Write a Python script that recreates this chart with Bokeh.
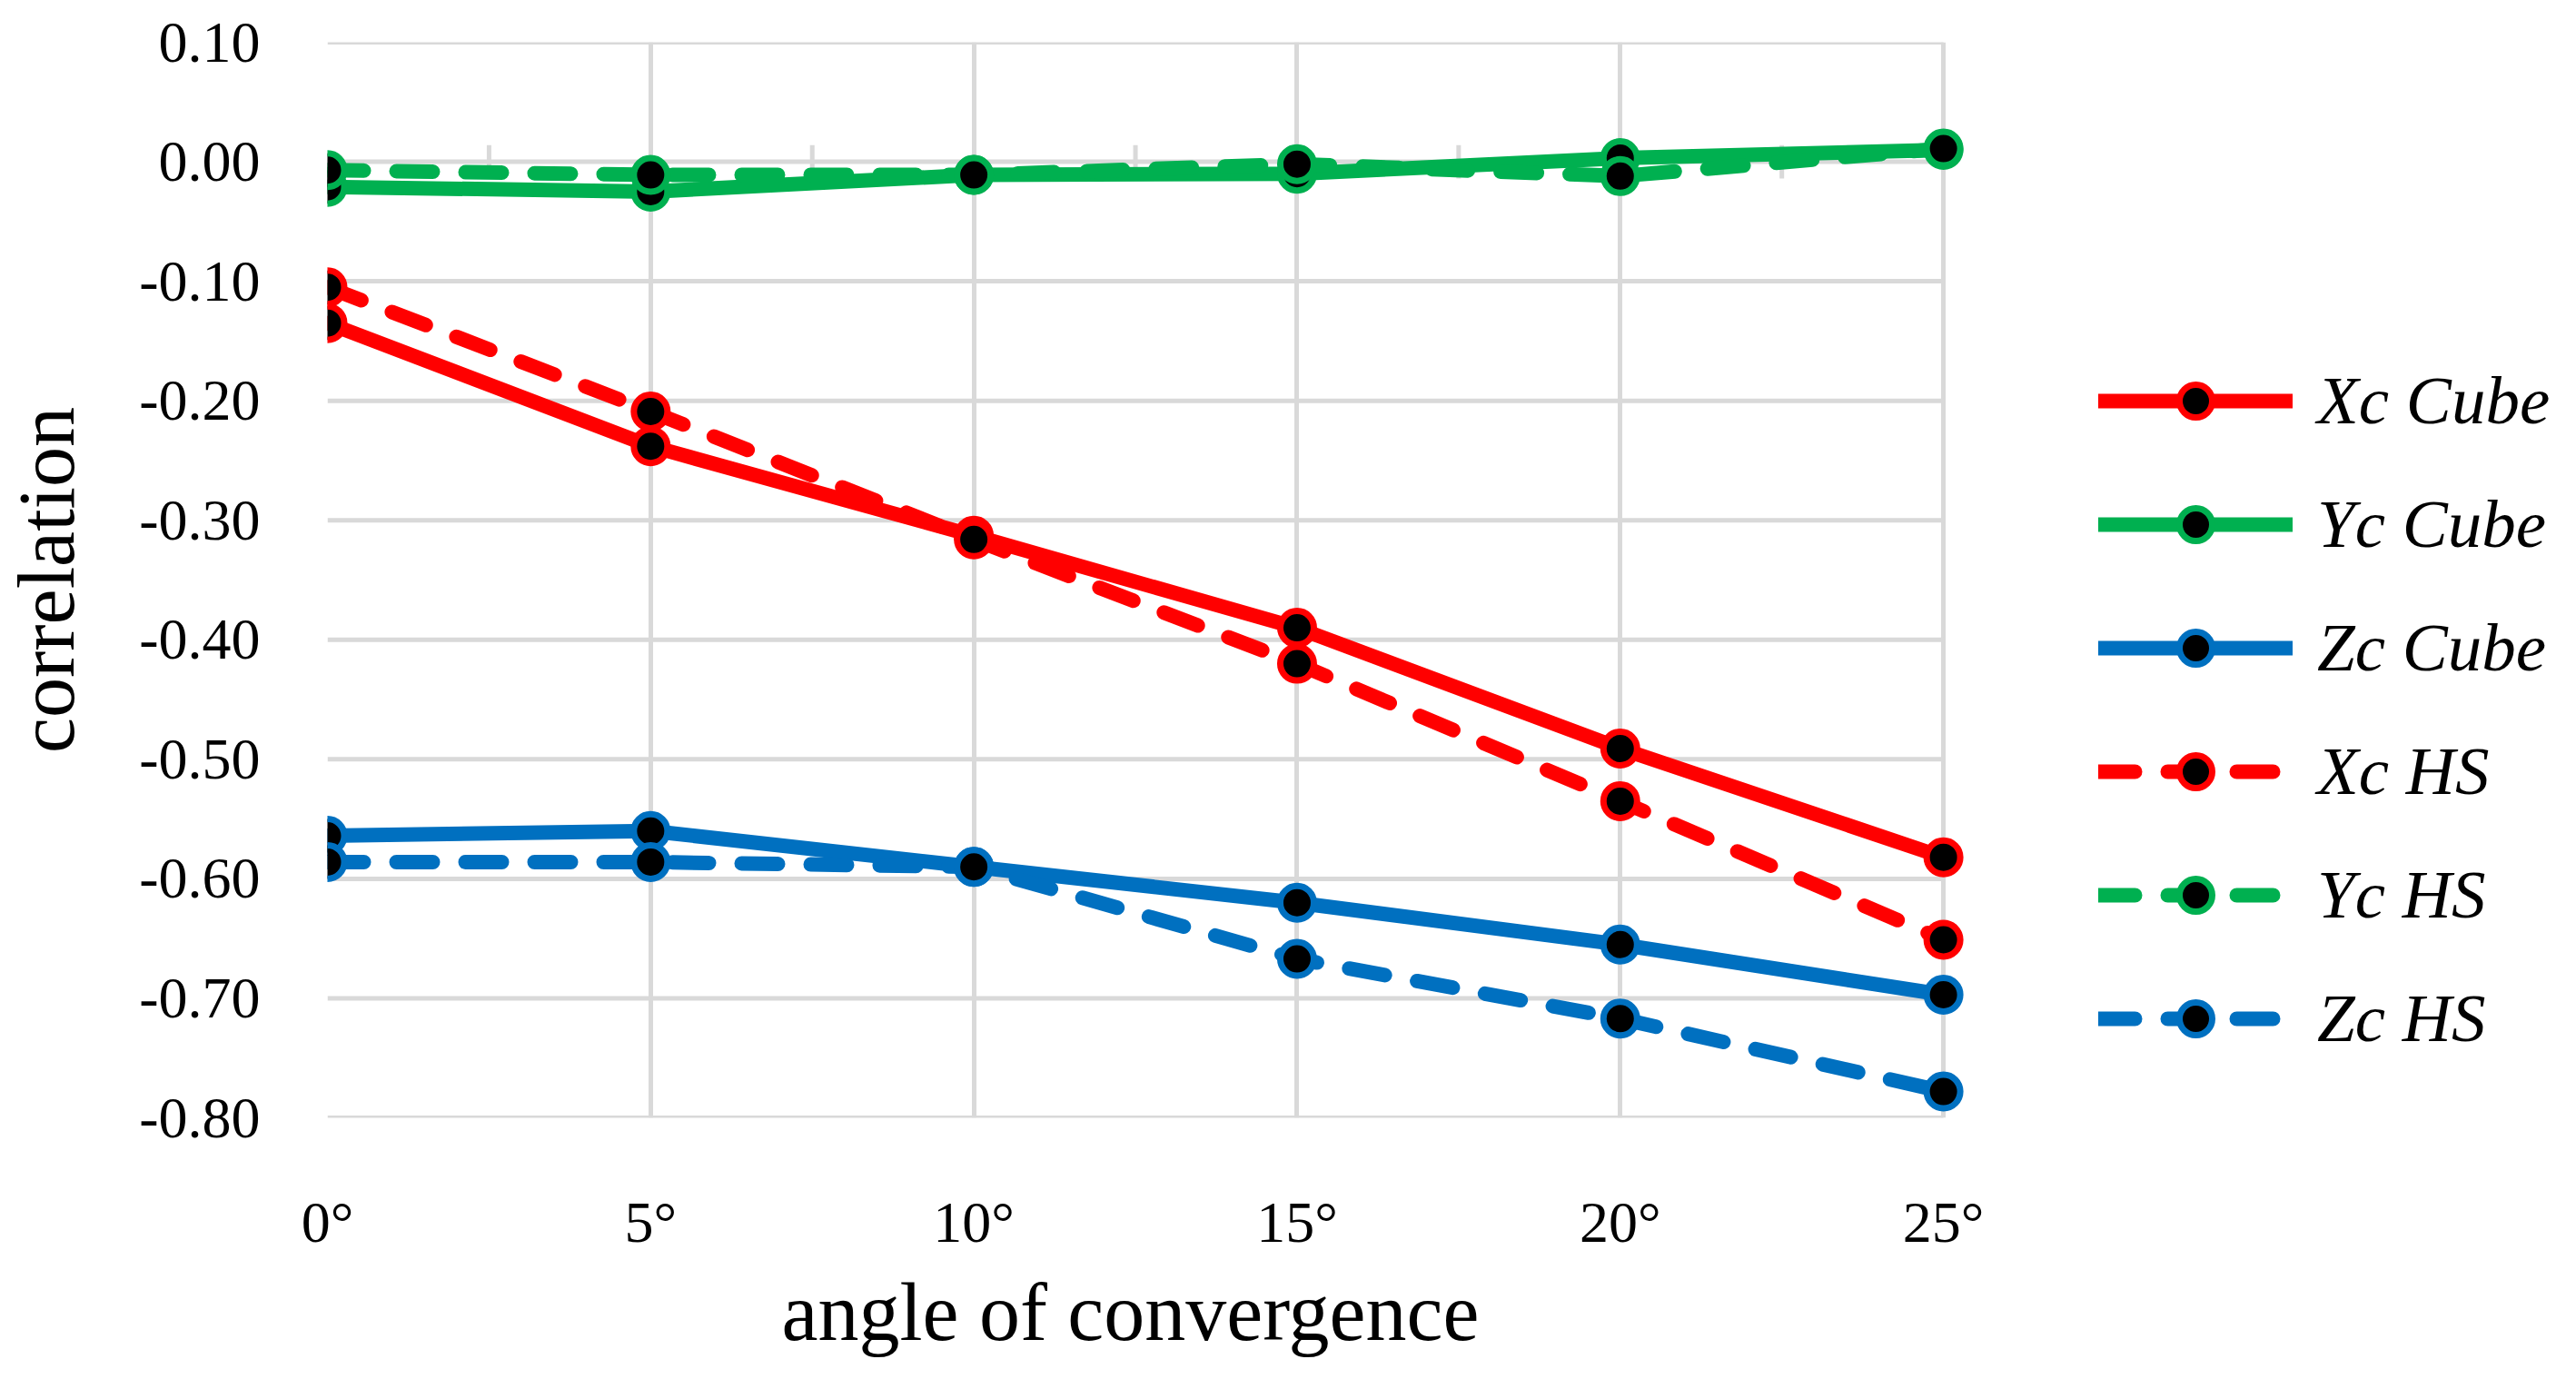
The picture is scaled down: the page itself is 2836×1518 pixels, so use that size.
from bokeh.plotting import figure
from bokeh.models import (FixedTicker, NumeralTickFormatter, Range1d, Legend, LegendItem, Title)
from bokeh.embed import file_html
from bokeh.resources import INLINE

# ---- data ----
angles = [0, 5, 10, 15, 20, 25]
angle_labels = ["0°", "5°", "10°", "15°", "20°", "25°"]
y_ticks = [0.10, 0.00, -0.10, -0.20, -0.30, -0.40, -0.50, -0.60, -0.70, -0.80]

xc_cube = [-0.135, -0.238, -0.313, -0.390, -0.491, -0.582]
yc_cube = [-0.021, -0.025, -0.011, -0.010, 0.003, 0.010]
zc_cube = [-0.564, -0.560, -0.590, -0.620, -0.655, -0.697]
xc_hs = [-0.105, -0.209, -0.316, -0.420, -0.535, -0.651]
yc_hs = [-0.007, -0.011, -0.011, -0.002, -0.012, 0.011]
zc_hs = [-0.586, -0.586, -0.590, -0.667, -0.717, -0.778]

series = [
    ("Xc Cube", xc_cube, "#FF0000", "solid"),
    ("Yc Cube", yc_cube, "#00B050", "solid"),
    ("Zc Cube", zc_cube, "#0070C0", "solid"),
    ("Xc HS", xc_hs, "#FF0000", "40 36"),
    ("Yc HS", yc_hs, "#00B050", "40 36"),
    ("Zc HS", zc_hs, "#0070C0", "40 36"),
]

FONT = "Liberation Serif"
GRID = "#D9D9D9"

# layout (pixels)
W, H = 2820, 1502
LEFT, TOP, BOTTOM = 356, 46, 271
PLOT_W = 1782                      # width of the gridded plot area
FRAME_W = W - LEFT                 # frame runs to the right edge so the legend fits inside
x_end = angles[0] + (angles[-1] - angles[0]) * FRAME_W / PLOT_W

p = figure(width=W, height=H, output_backend="svg", toolbar_location=None,
           x_range=Range1d(angles[0], x_end), y_range=Range1d(y_ticks[-1], y_ticks[0]),
           min_border_left=LEFT, min_border_right=0, min_border_top=TOP,
           min_border_bottom=BOTTOM)
p.outline_line_color = None
p.background_fill_color = "white"
p.border_fill_color = "white"

# grid: vertical lines at the categories, horizontal lines only across the plot area
p.xgrid.ticker = FixedTicker(ticks=angles)
p.xgrid.grid_line_color = GRID
p.xgrid.grid_line_width = 5
p.ygrid.visible = False
p.segment(x0=[angles[0]] * len(y_ticks), x1=[angles[-1]] * len(y_ticks),
          y0=y_ticks, y1=y_ticks, line_color=GRID, line_width=5)

# axes
xa = p.xaxis[0]
xa.ticker = FixedTicker(ticks=angles)
xa.bounds = (angles[0], angles[-1])
xa.major_label_overrides = {a: l for a, l in zip(angles, angle_labels)}
ya = p.yaxis[0]
ya.ticker = FixedTicker(ticks=y_ticks)
ya.formatter = NumeralTickFormatter(format="0.00")
ya.axis_label = "correlation"
for ax in (xa, ya):
    ax.axis_line_color = None
    ax.major_tick_line_color = None
    ax.minor_tick_line_color = None
    ax.major_label_text_font = FONT
    ax.major_label_text_font_size = "64px"
    ax.major_label_text_color = "black"
    ax.axis_label_text_font = FONT
    ax.axis_label_text_font_style = "normal"
    ax.axis_label_text_color = "black"
ya.axis_label_text_font_size = "88px"
xa.major_label_standoff = 73
ya.major_label_standoff = 68
ya.axis_label_standoff = 50

# x-axis title centred under the gridded plot area
x_title = Title(text="angle of convergence", align="left", offset=500, standoff=18,
                text_font=FONT, text_font_size="90px", text_font_style="normal",
                text_color="black")
p.add_layout(x_title, "below")

# category-axis cross ticks on the zero line, between categories
mids = [(angles[i] + angles[i + 1]) / 2 for i in range(len(angles) - 1)]
p.segment(x0=mids, x1=mids, y0=[-0.014] * len(mids), y1=[0.014] * len(mids),
          line_color=GRID, line_width=5)

items = []
for name, vals, color, dash in series:
    ln = p.line(angles, vals, line_color=color, line_width=16, line_dash=dash,
                line_cap="round", line_join="round")
    sc = p.scatter(angles, vals, marker="circle", size=37, fill_color="black",
                   line_color=color, line_width=7)
    items.append(LegendItem(label=name, renderers=[ln, sc]))

legend = Legend(items=items, location=(1950, 64), orientation="vertical",
                glyph_width=214, glyph_height=90, label_height=90,
                label_standoff=27, spacing=46, padding=0, margin=0,
                border_line_color=None, background_fill_alpha=0,
                label_text_font=FONT, label_text_font_size="75px",
                label_text_font_style="italic", label_text_color="black")
p.add_layout(legend, "center")

open("out.html", "w").write(file_html(p, INLINE))
